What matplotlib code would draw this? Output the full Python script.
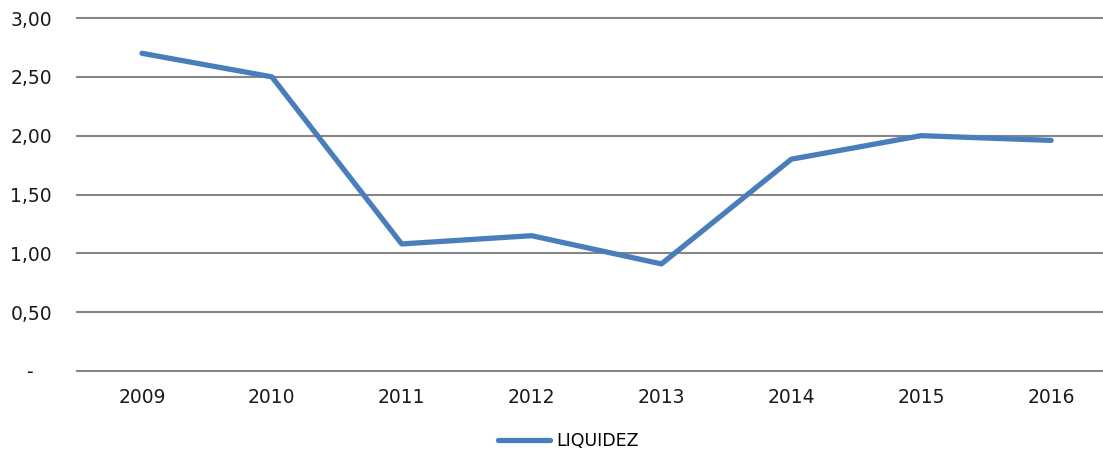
import matplotlib
matplotlib.use("Agg")
import matplotlib.pyplot as plt

years = ["2009", "2010", "2011", "2012", "2013", "2014", "2015", "2016"]
liquidez = [2.70, 2.50, 1.08, 1.15, 0.91, 1.80, 2.00, 1.96]
y_ticks = [0, 0.5, 1.0, 1.5, 2.0, 2.5, 3.0]
y_labels = ["-   ", "0,50", "1,00", "1,50", "2,00", "2,50", "3,00"]

plt.rcParams['font.family'] = ['DejaVu Sans']

fig = plt.figure(figsize=(11.03, 4.53), dpi=100)
ax = fig.add_axes([77/1103, 1 - 371/453, (1116 - 77)/1103, (371 - 18)/453])

x = list(range(len(years)))
ax.plot(x, liquidez, color="#4A7EBB", linewidth=3.8, solid_capstyle="round",
        solid_joinstyle="round", label="LIQUIDEZ", zorder=3)

ax.set_xlim(-0.5, len(years) - 0.5)
ax.set_ylim(0, 3.0)
ax.set_yticks(y_ticks)
ax.set_yticklabels(y_labels)
ax.set_xticks(x)
ax.set_xticklabels(years)

for y in y_ticks:
    ax.axhline(y, color="#868686", linewidth=1.5, zorder=1, clip_on=False)

for s in ax.spines.values():
    s.set_visible(False)

ax.tick_params(axis="y", length=0, pad=18, labelsize=13.5, labelcolor="#1a1a1a")
ax.tick_params(axis="x", length=0, pad=12, labelsize=13.5, labelcolor="#1a1a1a")

fig.legend(loc="center", bbox_to_anchor=(0.515, 1 - 441/453), frameon=False,
           fontsize=12.5, handlelength=3.0, handletextpad=0.35)

fig.savefig("out.png", dpi=100, facecolor="white")
